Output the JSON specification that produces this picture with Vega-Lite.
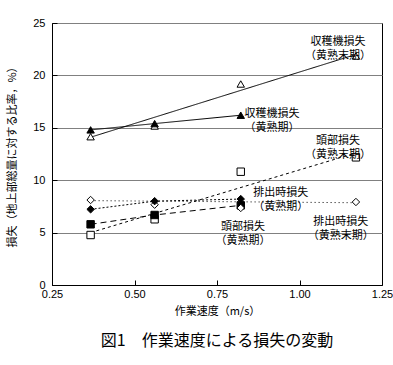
{
  "$schema": "https://vega.github.io/schema/vega-lite/v6.json",
  "width": 330,
  "height": 262,
  "autosize": "none",
  "padding": {"left": 52, "top": 23, "right": 11, "bottom": 80},
  "background": "white",
  "config": {
    "view": {"stroke": "black", "strokeWidth": 1},
    "font": "Noto Sans CJK JP",
    "axis": {"labelFont": "Liberation Sans", "labelFontSize": 11, "labelColor": "black", "titleFont": "Noto Sans CJK JP", "titleFontSize": 11, "titleFontWeight": "normal", "titleColor": "black", "domainColor": "black", "tickColor": "black", "gridColor": "#808080", "gridWidth": 1}
  },
  "title": {"text": "図1　作業速度による損失の変動", "orient": "bottom", "anchor": "middle", "fontSize": 16, "fontWeight": "normal", "font": "Noto Sans CJK JP", "color": "black", "offset": 17},
  "datasets": {
    "pts": [
      {"s": "harv_late", "x": 0.367, "y": 14.15},
      {"s": "harv_late", "x": 0.561, "y": 15.17},
      {"s": "harv_late", "x": 0.822, "y": 19.18},
      {"s": "harv_late", "x": 1.171, "y": 21.85},
      {"s": "harv", "x": 0.367, "y": 14.8},
      {"s": "harv", "x": 0.561, "y": 15.4},
      {"s": "harv", "x": 0.822, "y": 16.2},
      {"s": "head_late", "x": 0.367, "y": 4.77},
      {"s": "head_late", "x": 0.561, "y": 6.27},
      {"s": "head_late", "x": 0.822, "y": 10.81},
      {"s": "head_late", "x": 1.171, "y": 12.18},
      {"s": "head", "x": 0.367, "y": 5.79},
      {"s": "head", "x": 0.561, "y": 6.68},
      {"s": "head", "x": 0.822, "y": 7.6},
      {"s": "dis_late", "x": 0.367, "y": 8.11},
      {"s": "dis_late", "x": 0.561, "y": 7.66},
      {"s": "dis_late", "x": 0.822, "y": 7.35},
      {"s": "dis_late", "x": 1.171, "y": 7.92},
      {"s": "dis", "x": 0.367, "y": 7.22},
      {"s": "dis", "x": 0.561, "y": 8.0},
      {"s": "dis", "x": 0.822, "y": 8.2}
    ],
    "lines": [
      {"s": "harv_late", "o": 1, "x": 0.367, "y": 14.1},
      {"s": "harv_late", "o": 2, "x": 1.171, "y": 22.0},
      {"s": "harv", "o": 1, "x": 0.367, "y": 14.8},
      {"s": "harv", "o": 2, "x": 0.561, "y": 15.4},
      {"s": "harv", "o": 3, "x": 0.822, "y": 16.2},
      {"s": "head_late", "o": 1, "x": 0.367, "y": 5.0},
      {"s": "head_late", "o": 2, "x": 1.171, "y": 12.6},
      {"s": "head", "o": 1, "x": 0.367, "y": 5.79},
      {"s": "head", "o": 2, "x": 0.561, "y": 6.68},
      {"s": "head", "o": 3, "x": 0.822, "y": 7.6},
      {"s": "dis_late", "o": 1, "x": 0.367, "y": 8.05},
      {"s": "dis_late", "o": 2, "x": 1.171, "y": 7.85},
      {"s": "dis", "o": 1, "x": 0.367, "y": 7.22},
      {"s": "dis", "o": 2, "x": 0.561, "y": 8.0},
      {"s": "dis", "o": 3, "x": 0.822, "y": 8.2}
    ],
    "labels": [
      {"t": ["収穫機損失", "（黄熟末期）"], "x": 1.117, "y": 23.2},
      {"t": ["収穫機損失", "（黄熟期）"], "x": 0.917, "y": 16.36},
      {"t": ["頭部損失", "（黄熟末期）"], "x": 1.117, "y": 13.74},
      {"t": ["排出時損失", "（黄熟期）"], "x": 0.943, "y": 8.78},
      {"t": ["排出時損失", "（黄熟末期）"], "x": 1.125, "y": 6.01},
      {"t": ["頭部損失", "（黄熟期）"], "x": 0.829, "y": 5.49}
    ]
  },
  "encoding": {
    "x": {"field": "x", "type": "quantitative", "scale": {"domain": [0.25, 1.25], "nice": false, "zero": false},
      "axis": {"values": [0.25, 0.5, 0.75, 1.0, 1.25], "format": ".2f", "grid": false, "tickSize": -5, "labelPadding": 8, "title": "作業速度（m/s）", "titlePadding": 6, "labelFlush": false}},
    "y": {"field": "y", "type": "quantitative", "scale": {"domain": [0, 25], "nice": false},
      "axis": {"values": [0, 5, 10, 15, 20, 25], "grid": true, "tickSize": -5, "labelPadding": 12, "title": "損失（地上部総量に対する比率，%）", "titlePadding": 15}}
  },
  "layer": [
    {
      "data": {"name": "lines"},
      "mark": {"type": "line", "color": "black", "strokeWidth": 1},
      "encoding": {
        "detail": {"field": "s"},
        "order": {"field": "o"},
        "strokeDash": {"field": "s", "type": "nominal", "legend": null,
          "scale": {"domain": ["harv_late", "harv", "head_late", "head", "dis_late", "dis"], "range": [[1, 0], [1, 0], [3, 3], [6, 4], [1, 3], [2, 2]]}}
      }
    },
    {
      "data": {"name": "pts"},
      "mark": {"type": "point", "filled": true, "stroke": "black", "strokeWidth": 1, "size": 55, "opacity": 1},
      "encoding": {
        "shape": {"field": "s", "type": "nominal", "legend": null,
          "scale": {"domain": ["harv_late", "harv", "head_late", "head", "dis_late", "dis"], "range": ["triangle-up", "triangle-up", "square", "square", "diamond", "diamond"]}},
        "fill": {"field": "s", "type": "nominal", "legend": null,
          "scale": {"domain": ["harv_late", "harv", "head_late", "head", "dis_late", "dis"], "range": ["white", "black", "white", "black", "white", "black"]}}
      }
    },
    {
      "data": {"name": "labels"},
      "mark": {"type": "text", "font": "Noto Sans CJK JP", "fontSize": 11, "lineHeight": 14, "color": "black", "align": "center", "baseline": "middle"},
      "encoding": {"text": {"field": "t"}}
    }
  ]
}
